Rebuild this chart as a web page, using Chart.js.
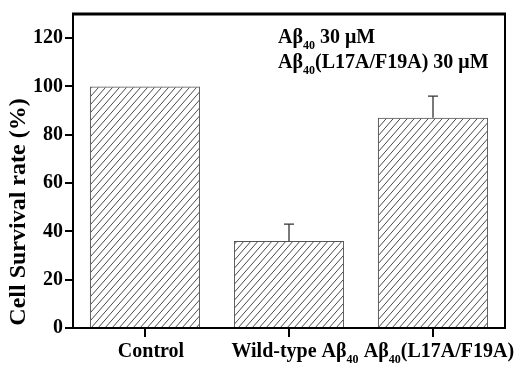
<!DOCTYPE html>
<html>
<head>
<meta charset="utf-8">
<script src="https://cdn.jsdelivr.net/npm/chart.js@4.4.1/dist/chart.umd.min.js"></script>
<style>
html,body{margin:0;padding:0;background:#fff;}
#wrap{width:529px;height:365px;position:relative;}
</style>
</head>
<body>
<div id="wrap"><canvas id="c" width="529" height="365"></canvas></div>
<script>
// ---- data ----
const categories = ['Control', 'Wild-type Aβ40', 'Aβ40(L17A/F19A)'];
const survival = [100, 36, 87];
const errorUp = [0, 7, 9];
// label parts with subscripts: [text, isSub]
const xLabelParts = [
  [['Control', false]],
  [['Wild-type Aβ', false], ['40', true]],
  [['Aβ', false], ['40', true], ['(L17A/F19A)', false]]
];
const legendLines = [
  [['Aβ', false], ['40', true], [' 30 μM', false]],
  [['Aβ', false], ['40', true], ['(L17A/F19A) 30 μM', false]]
];
const yTitle = 'Cell Survival rate (%)';
const yMin = 0, yMax = 130, yStep = 10, yLabelStep = 20;

const FONT = '"Liberation Serif","Times New Roman",serif';

function hatchPattern(ctx){
  const w = 7, h = 8;
  const c = document.createElement('canvas');
  c.width = w; c.height = h;
  const g = c.getContext('2d');
  g.strokeStyle = '#4a4a4a';
  g.lineWidth = 1;
  g.beginPath();
  g.moveTo(0, h); g.lineTo(w, 0);
  g.moveTo(-w, h); g.lineTo(0, 0);
  g.moveTo(w, h); g.lineTo(2*w, 0);
  g.stroke();
  return ctx.createPattern(c, 'repeat');
}

function drawParts(ctx, parts, x, y, size, align){
  const subSize = Math.round(size * 0.6);
  let total = 0;
  parts.forEach(p => {
    ctx.font = 'bold ' + (p[1] ? subSize : size) + 'px ' + FONT;
    total += ctx.measureText(p[0]).width;
  });
  let cx = align === 'center' ? x - total / 2 : x;
  ctx.textAlign = 'left';
  ctx.textBaseline = 'alphabetic';
  parts.forEach(p => {
    ctx.font = 'bold ' + (p[1] ? subSize : size) + 'px ' + FONT;
    ctx.fillText(p[0], cx, p[1] ? y + size * 0.28 : y);
    cx += ctx.measureText(p[0]).width;
  });
}

const decor = {
  id: 'decor',
  afterDatasetsDraw(chart){
    const ctx = chart.ctx;
    const ys = chart.scales.y;
    const meta = chart.getDatasetMeta(0);
    ctx.save();
    ctx.strokeStyle = '#333';
    ctx.lineWidth = 1.3;
    survival.forEach((v, i) => {
      if (!errorUp[i]) return;
      const bx = meta.data[i].x;
      const y0 = ys.getPixelForValue(v);
      const y1 = ys.getPixelForValue(v + errorUp[i]);
      ctx.beginPath();
      ctx.moveTo(bx, y0); ctx.lineTo(bx, y1);
      ctx.moveTo(bx - 5, y1); ctx.lineTo(bx + 5, y1);
      ctx.stroke();
    });
    ctx.restore();
  },
  afterDraw(chart){
    const ctx = chart.ctx;
    const a = chart.chartArea;
    const xs = chart.scales.x;
    ctx.save();
    ctx.strokeStyle = '#000';
    ctx.lineWidth = 3;
    ctx.beginPath(); ctx.moveTo(a.left - 1, a.top); ctx.lineTo(a.right + 1, a.top); ctx.stroke();
    ctx.lineWidth = 2;
    ctx.beginPath(); ctx.moveTo(a.right, a.top); ctx.lineTo(a.right, a.bottom); ctx.stroke();
    ctx.fillStyle = '#000';
    xLabelParts.forEach((parts, i) => {
      drawParts(ctx, parts, xs.getPixelForTick(i) + 6, a.bottom + 29, 20, 'center');
    });
    legendLines.forEach((parts, i) => {
      drawParts(ctx, parts, a.left + 205, a.top + 29 + i * 25, 20, 'left');
    });
    ctx.translate(19, 212);
    ctx.rotate(-Math.PI / 2);
    ctx.font = 'bold 24px ' + FONT;
    ctx.textAlign = 'center';
    ctx.textBaseline = 'middle';
    ctx.fillText(yTitle, 0, 0);
    ctx.restore();
  }
};

const ctx = document.getElementById('c').getContext('2d');
new Chart(ctx, {
  type: 'bar',
  data: {
    labels: categories,
    datasets: [{
      data: survival,
      backgroundColor: hatchPattern(ctx),
      borderColor: '#555',
      borderWidth: 1,
      barPercentage: 0.765,
      categoryPercentage: 1.0
    }]
  },
  options: {
    responsive: false,
    animation: false,
    devicePixelRatio: 1,
    layout: { padding: { top: 13, right: 24, left: 0, bottom: 0 } },
    plugins: { legend: { display: false }, tooltip: { enabled: false } },
    scales: {
      x: {
        grid: { display: true, offset: false, drawOnChartArea: false, drawTicks: true, tickLength: 9, color: '#000', lineWidth: 2 },
        border: { display: true, color: '#000', width: 2 },
        ticks: { display: false },
        afterFit(s){ s.height = 37; }
      },
      y: {
        min: yMin, max: yMax,
        grid: { display: true, drawOnChartArea: false, drawTicks: true, tickLength: 8, color: '#000', lineWidth: 2 },
        border: { display: true, color: '#000', width: 2 },
        ticks: {
          stepSize: yStep,
          color: '#000',
          padding: 2,
          font: { family: FONT, size: 20, weight: 'bold' },
          callback: v => (v % yLabelStep === 0 ? v : '')
        },
        afterFit(s){ s.width = 73; }
      }
    }
  },
  plugins: [decor]
});
</script>
</body>
</html>
